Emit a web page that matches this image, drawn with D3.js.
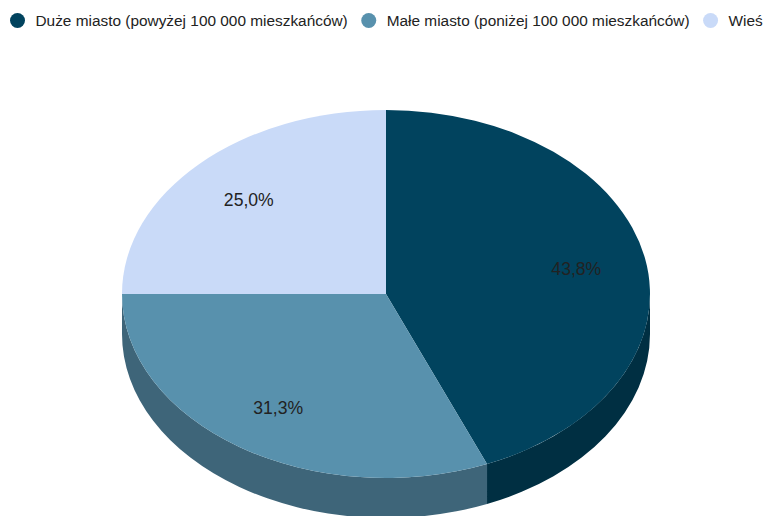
<!DOCTYPE html>
<html>
<head>
<meta charset="utf-8">
<script src="https://cdn.jsdelivr.net/npm/d3@7/dist/d3.min.js"></script>
<style>
  html, body { margin: 0; padding: 0; background: #fff; }
  svg { display: block; font-family: Arial, "Liberation Sans", sans-serif; }
</style>
</head>
<body>
<svg id="chart" width="764" height="516"></svg>
<script>
// ---- data ----
const categories = [
  "Duże miasto (powyżej 100 000 mieszkańców)",
  "Małe miasto (poniżej 100 000 mieszkańców)",
  "Wieś"
];
const values = [7, 5, 4];
const topColors  = ["#01435E", "#5891AD", "#C9DAF8"];
const sideColors = ["#002F42", "#3E6579", "#8D99AE"];

// ---- layout ----
const W = 764, H = 516;
const cx = 386, cy = 294, rx = 264, ry = 184, depth = 40;
const k = ry / rx;
const labelFrac = 0.735;

const svg = d3.select("#chart");
const total = d3.sum(values);
const locale = d3.formatLocale({decimal: ",", thousands: " ", grouping: [3], currency: ["", ""]});
const fmt = locale.format(".1f");

const pie = d3.pie().sort(null).value(d => d.value);
const arcs = pie(categories.map((c, i) => ({name: c, value: values[i], i})));

// sides (in scaled space)
const sideG = svg.append("g").attr("transform", `translate(${cx},${cy}) scale(1,${k})`);
const D = depth / k;
arcs.forEach(a => {
  const a0 = Math.max(a.startAngle, Math.PI / 2);
  const a1 = Math.min(a.endAngle, 3 * Math.PI / 2);
  if (a1 <= a0) return;
  const p = d3.path();
  const s0 = a0 - Math.PI / 2, s1 = a1 - Math.PI / 2;
  p.moveTo(rx * Math.cos(s0), rx * Math.sin(s0));
  p.arc(0, 0, rx, s0, s1, false);
  p.lineTo(rx * Math.cos(s1), rx * Math.sin(s1) + D);
  p.arc(0, D, rx, s1, s0, true);
  p.closePath();
  sideG.append("path").attr("d", p.toString()).attr("fill", sideColors[a.data.i]);
});

// top
const topG = svg.append("g").attr("transform", `translate(${cx},${cy}) scale(1,${k})`);
const arcGen = d3.arc().innerRadius(0).outerRadius(rx);
topG.selectAll("path.top").data(arcs).join("path")
  .attr("class", "top")
  .attr("d", arcGen)
  .attr("fill", d => topColors[d.data.i]);

// labels
svg.append("g").selectAll("text").data(arcs).join("text")
  .attr("x", d => cx + labelFrac * rx * Math.sin((d.startAngle + d.endAngle) / 2))
  .attr("y", d => cy - labelFrac * ry * Math.cos((d.startAngle + d.endAngle) / 2) + 1.5)
  .attr("text-anchor", "middle")
  .attr("dominant-baseline", "central")
  .attr("font-size", 17.6)
  .attr("fill", "#222")
  .text(d => fmt(100 * d.value / total) + "%");

// legend
const legend = svg.append("g");
let x = 17.5;
const ly = 20.5;
categories.forEach((c, i) => {
  legend.append("circle").attr("cx", x).attr("cy", ly).attr("r", 7.5).attr("fill", topColors[i]);
  const t = legend.append("text")
    .attr("x", x + 18).attr("y", ly)
    .attr("dominant-baseline", "central")
    .attr("font-size", 15.4)
    .attr("fill", "#222")
    .text(c);
  const w = t.node().getComputedTextLength();
  x = x + 18 + w + 21;
});
</script>
</body>
</html>
